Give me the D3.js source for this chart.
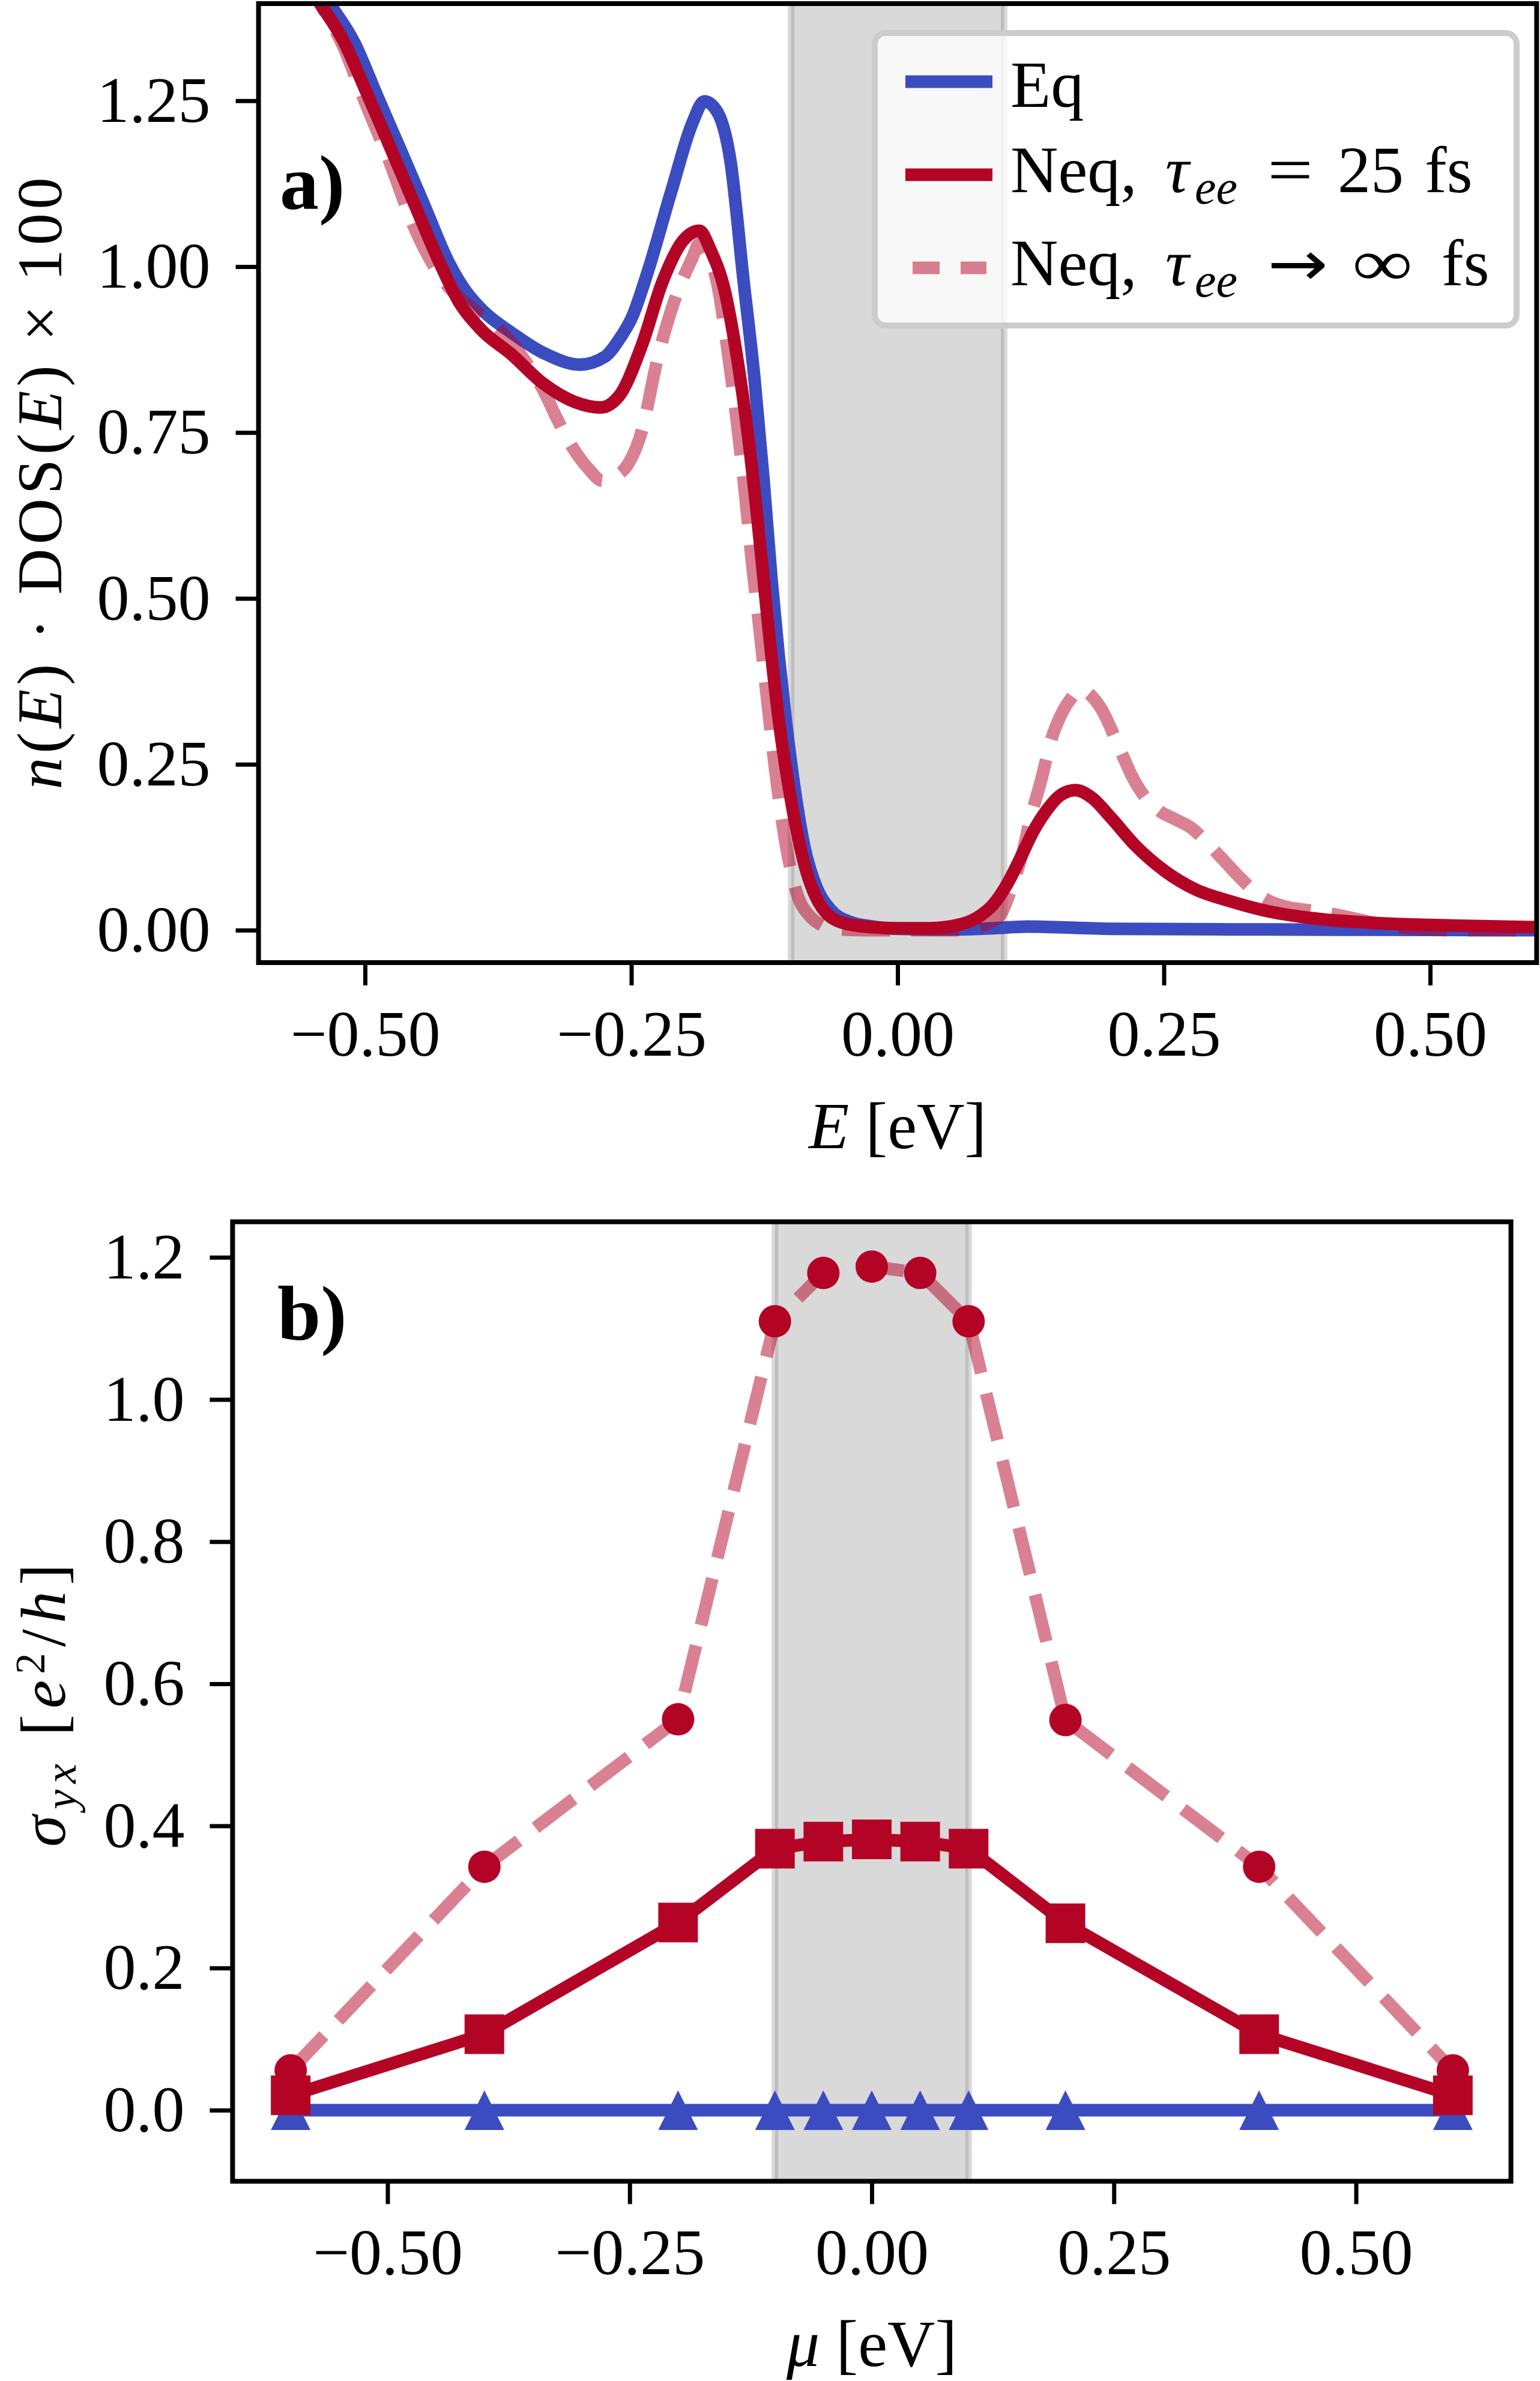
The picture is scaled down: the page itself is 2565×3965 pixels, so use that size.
<!DOCTYPE html>
<html>
<head>
<meta charset="utf-8">
<script src="https://cdn.jsdelivr.net/npm/d3@7"></script>
<style>
  body { margin: 0; background: #fff; }
  text { font-family: "Liberation Serif", "Times New Roman", serif; fill: #000; }
</style>
</head>
<body>
<svg id="chart" width="2565" height="3965"></svg>
<script>
// ---------------- DATA ----------------
// Panel a: n(E)·DOS(E)×100
const energyEq = [-0.56,-0.5356,-0.5098,-0.4882,-0.4666,-0.445,-0.4213,-0.4062,-0.389,-0.363,-0.3307,-0.2983,-0.2746,-0.2621,-0.249,-0.235,-0.212,-0.193,-0.1815,-0.170,-0.157,-0.1447,-0.1343,-0.1259,-0.1184,-0.1118,-0.1052,-0.0968,-0.0874,-0.0761,-0.063,-0.0441,-0.0254,0.0,0.05,0.09,0.122,0.2,0.35,0.6];
const dosEq = [1.463,1.402,1.337,1.256,1.176,1.095,1.006,0.965,0.933,0.901,0.8685,0.8523,0.8645,0.8887,0.925,0.990,1.116,1.215,1.249,1.235,1.16,0.980,0.830,0.680,0.530,0.4175,0.320,0.2148,0.125,0.0647,0.031,0.0122,0.006,0.002,0.001,0.003,0.0055,0.002,0.001,0.0];

const energyNeq25 = [-0.56,-0.5443,-0.5205,-0.499,-0.4775,-0.4538,-0.430,-0.4126,-0.391,-0.363,-0.3329,-0.3027,-0.279,-0.262,-0.240,-0.221,-0.202,-0.186,-0.1757,-0.1625,-0.1512,-0.140,-0.1306,-0.1212,-0.1118,-0.1005,-0.0892,-0.0742,-0.0536,-0.0254,0.0,0.03,0.0592,0.0743,0.0894,0.102,0.1145,0.1271,0.1397,0.1523,0.1669,0.1825,0.2001,0.2227,0.2505,0.2807,0.3108,0.3486,0.3864,0.4538,0.52,0.6];
const dosNeq25 = [1.445,1.402,1.341,1.264,1.184,1.095,1.006,0.949,0.905,0.8685,0.824,0.7958,0.7877,0.804,0.882,0.976,1.038,1.054,1.0253,0.965,0.868,0.740,0.605,0.455,0.320,0.200,0.110,0.0423,0.0122,0.0045,0.003,0.003,0.0088,0.0185,0.038,0.067,0.106,0.148,0.180,0.2027,0.211,0.1995,0.170,0.1285,0.0896,0.0606,0.0443,0.0282,0.0185,0.0104,0.007,0.0045];

const energyNeqInf = [-0.56,-0.5443,-0.52,-0.503,-0.4775,-0.4538,-0.4279,-0.3997,-0.3737,-0.3523,-0.3307,-0.32,-0.305,-0.290,-0.277,-0.264,-0.254,-0.240,-0.226,-0.207,-0.193,-0.186,-0.180,-0.170,-0.1597,-0.1512,-0.1437,-0.1371,-0.1297,-0.1221,-0.1146,-0.1061,-0.0949,-0.0817,-0.0723,-0.06,-0.03,0.0,0.05,0.075,0.095,0.107,0.1171,0.1246,0.1347,0.1448,0.1548,0.1624,0.1712,0.190,0.2102,0.2202,0.2328,0.2454,0.2605,0.2756,0.2907,0.3058,0.3209,0.336,0.3486,0.3662,0.3864,0.4115,0.45,0.48,0.52,0.6];
const dosNeqInf = [1.445,1.402,1.33,1.26,1.160,1.059,0.982,0.9375,0.905,0.864,0.808,0.7716,0.727,0.695,0.677,0.685,0.700,0.753,0.857,0.960,1.012,1.035,1.02,0.980,0.875,0.770,0.665,0.560,0.455,0.3425,0.2374,0.140,0.0573,0.020,0.0085,0.002,0.0,0.0,0.0,0.005,0.02,0.0637,0.1155,0.1674,0.2253,0.290,0.3288,0.3484,0.3629,0.3368,0.2673,0.2317,0.1995,0.180,0.1672,0.1542,0.1316,0.1059,0.080,0.0573,0.0443,0.0347,0.0299,0.0235,0.01,0.003,0.0,0.0];

// Panel b: sigma_yx vs mu
const muValues    = [-0.6,-0.4,-0.2,-0.1,-0.05,0.0,0.05,0.1,0.2,0.4,0.6];
const sigmaEq     = [0,0,0,0,0,0,0,0,0,0,0];
const sigmaNeq25  = [0.021,0.107,0.264,0.368,0.378,0.381,0.378,0.368,0.263,0.107,0.021];
const sigmaNeqInf = [0.056,0.3425,0.55,1.110,1.178,1.187,1.178,1.110,0.549,0.3425,0.056];

// shaded gap region
const gapRange = [-0.1, 0.1];

// ticks
const aXTicks = [-0.5,-0.25,0,0.25,0.5];
const aYTicks = [0,0.25,0.5,0.75,1.0,1.25];
const bXTicks = [-0.5,-0.25,0,0.25,0.5];
const bYTicks = [0,0.2,0.4,0.6,0.8,1.0,1.2];

// ---------------- STYLE ----------------
const BLUE = "#3b4cc0", RED = "#b40426", GRAY = "#808080";
const LW = 21, DASH = "80,35";
const TICKFS = 108, LABFS = 110;

const svg = d3.select("#chart");
const defs = svg.append("defs");

function styleAxis(g) {
  g.select(".domain").remove();
  g.selectAll(".tick line").attr("stroke", "#000").attr("stroke-width", 7);
  g.selectAll(".tick text").attr("font-size", TICKFS)
    .attr("font-family", '"Liberation Serif","Times New Roman",serif').attr("fill", "#000");
}

function drawFrame(g, x, y, clipId) {
  const [x0, x1] = x.range(), [y0, y1] = y.range(); // y0 bottom, y1 top
  defs.append("clipPath").attr("id", clipId).append("rect")
    .attr("x", x0).attr("y", y1).attr("width", x1 - x0).attr("height", y0 - y1);
  const plot = g.append("g").attr("clip-path", `url(#${clipId})`);
  plot.append("rect")
    .attr("x", x(gapRange[0])).attr("y", y1 - 40)
    .attr("width", x(gapRange[1]) - x(gapRange[0])).attr("height", y0 - y1 + 80)
    .attr("fill", GRAY).attr("fill-opacity", 0.3)
    .attr("stroke", GRAY).attr("stroke-opacity", 0.3).attr("stroke-width", 11);
  return plot;
}

function drawAxes(g, x, y, xt, yt, xf, yf) {
  const [x0, x1] = x.range(), [y0, y1] = y.range();
  g.append("rect").attr("x", x0).attr("y", y1).attr("width", x1 - x0).attr("height", y0 - y1)
    .attr("fill", "none").attr("stroke", "#000").attr("stroke-width", 8);
  g.append("g").attr("transform", `translate(0,${y0})`)
    .call(d3.axisBottom(x).tickValues(xt).tickSize(38).tickPadding(40).tickFormat(d3.format(xf)))
    .call(styleAxis);
  g.append("g").attr("transform", `translate(${x0},0)`)
    .call(d3.axisLeft(y).tickValues(yt).tickSize(38).tickPadding(42).tickFormat(d3.format(yf)))
    .call(styleAxis);
}

// ---------------- PANEL A ----------------
const xA = d3.scaleLinear().domain([-0.6, 0.6]).range([430.6, 2559.4]);
const yA = d3.scaleLinear().domain([-0.0489, 1.3964]).range([1603, 6]);
const gA = svg.append("g");
const plotA = drawFrame(gA, xA, yA, "clipA");
const lineA = d3.line().x(d => xA(d[0])).y(d => yA(d[1])).curve(d3.curveMonotoneX);

plotA.append("path").datum(d3.zip(energyEq, dosEq)).attr("d", lineA)
  .attr("fill", "none").attr("stroke", BLUE).attr("stroke-width", LW).attr("stroke-linejoin", "round");
plotA.append("path").datum(d3.zip(energyNeq25, dosNeq25)).attr("d", lineA)
  .attr("fill", "none").attr("stroke", RED).attr("stroke-width", LW).attr("stroke-linejoin", "round");
plotA.append("path").datum(d3.zip(energyNeqInf, dosNeqInf)).attr("d", lineA)
  .attr("fill", "none").attr("stroke", RED).attr("stroke-opacity", 0.5).attr("stroke-width", LW)
  .attr("stroke-dasharray", DASH);

drawAxes(gA, xA, yA, aXTicks, aYTicks, ".2f", ".2f");

// legend
const leg = gA.append("g");
leg.append("rect").attr("x", 1457).attr("y", 55).attr("width", 1069).attr("height", 487).attr("rx", 18)
  .attr("fill", "#fff").attr("fill-opacity", 0.8).attr("stroke", "#cccccc").attr("stroke-width", 10);
leg.append("line").attr("x1", 1508).attr("x2", 1653).attr("y1", 136).attr("y2", 136)
  .attr("stroke", BLUE).attr("stroke-width", LW);
leg.append("line").attr("x1", 1508).attr("x2", 1653).attr("y1", 291).attr("y2", 291)
  .attr("stroke", RED).attr("stroke-width", LW);
leg.append("line").attr("x1", 1520).attr("x2", 1643).attr("y1", 446).attr("y2", 446)
  .attr("stroke", RED).attr("stroke-opacity", 0.5).attr("stroke-width", LW).attr("stroke-dasharray", "45,35");

function legText(yb, pieces) {
  pieces.forEach(p => {
    const t = leg.append("text").attr("x", p.x).attr("y", yb + (p.dy || 0))
      .attr("font-size", p.size || LABFS).text(p.t);
    if (p.italic) t.attr("font-style", "italic");
    if (p.family) t.style("font-family", p.family);
    if (p.len) t.attr("textLength", p.len).attr("lengthAdjust", "spacingAndGlyphs");
  });
}
legText(178, [{t: "Eq", x: 1683}]);
legText(320, [{t: "Neq,", x: 1683}, {t: "τ", x: 1941, italic: true},
  {t: "ee", x: 1990, italic: true, size: 80, dy: 19}, {t: "=", x: 2111, len: 76},
  {t: "25", x: 2228}, {t: "fs", x: 2373}]);
legText(475, [{t: "Neq,", x: 1683}, {t: "τ", x: 1941, italic: true},
  {t: "ee", x: 1990, italic: true, size: 80, dy: 19},
  {t: "→", x: 2111, len: 101, family: '"DejaVu Sans", sans-serif', size: 104},
  {t: "∞", x: 2252, len: 101}, {t: "fs", x: 2401}]);

// panel label
gA.append("text").attr("x", 466).attr("y", 348).attr("font-size", 130).attr("font-weight", "bold").text("a)");

// axis labels
const xlA = gA.append("text").attr("x", (xA.range()[0] + xA.range()[1]) / 2).attr("y", 1912)
  .attr("text-anchor", "middle").attr("font-size", LABFS);
xlA.append("tspan").attr("font-style", "italic").text("E");
xlA.append("tspan").text(" [eV]");

const ylA = gA.append("text").attr("transform", "translate(102,805) rotate(-90)")
  .attr("text-anchor", "middle").attr("font-size", 106)
  .attr("textLength", 1019).attr("lengthAdjust", "spacing");
ylA.append("tspan").attr("font-style", "italic").text("n");
ylA.append("tspan").text("(");
ylA.append("tspan").attr("font-style", "italic").text("E");
ylA.append("tspan").text(") · DOS(");
ylA.append("tspan").attr("font-style", "italic").text("E");
ylA.append("tspan").text(") × 100");

// ---------------- PANEL B ----------------
const xB = d3.scaleLinear().domain([-0.66, 0.66]).range([387.4, 2516.6]);
const yB = d3.scaleLinear().domain([-0.1, 1.25]).range([3632.4, 2034.6]);
const gB = svg.append("g");
const plotB = drawFrame(gB, xB, yB, "clipB");
const lineB = d3.line().x(d => xB(d[0])).y(d => yB(d[1]));

// Eq: line + triangles
plotB.append("path").datum(d3.zip(muValues, sigmaEq)).attr("d", lineB)
  .attr("fill", "none").attr("stroke", BLUE).attr("stroke-width", LW);
const triPath = "M0,-33L33,33L-33,33Z";
gB.append("g").selectAll("path").data(d3.zip(muValues, sigmaEq)).join("path")
  .attr("d", triPath).attr("transform", d => `translate(${xB(d[0])},${yB(d[1])})`)
  .attr("fill", BLUE);
// Neq inf: dashed line + circles
gB.append("path").datum(d3.zip(muValues, sigmaNeqInf)).attr("d", lineB)
  .attr("fill", "none").attr("stroke", RED).attr("stroke-opacity", 0.5).attr("stroke-width", LW)
  .attr("stroke-dasharray", DASH);
gB.append("g").selectAll("circle").data(d3.zip(muValues, sigmaNeqInf)).join("circle")
  .attr("cx", d => xB(d[0])).attr("cy", d => yB(d[1])).attr("r", 27).attr("fill", RED);
// Neq 25: solid line + squares
gB.append("path").datum(d3.zip(muValues, sigmaNeq25)).attr("d", lineB)
  .attr("fill", "none").attr("stroke", RED).attr("stroke-width", LW).attr("stroke-linejoin", "round");
const sq = d3.symbol(d3.symbolSquare, 66 * 66)();
gB.append("g").selectAll("path").data(d3.zip(muValues, sigmaNeq25)).join("path")
  .attr("d", sq).attr("transform", d => `translate(${xB(d[0])},${yB(d[1])})`).attr("fill", RED);

drawAxes(gB, xB, yB, bXTicks, bYTicks, ".2f", ".1f");

gB.append("text").attr("x", 462).attr("y", 2231).attr("font-size", 130).attr("font-weight", "bold").text("b)");

const xlB = gB.append("text").attr("x", (xB.range()[0] + xB.range()[1]) / 2).attr("y", 3940)
  .attr("text-anchor", "middle").attr("font-size", LABFS);
xlB.append("tspan").attr("font-style", "italic").text("μ");
xlB.append("tspan").text(" [eV]");

const ylB = gB.append("text").attr("transform", "translate(108,2840) rotate(-90)")
  .attr("text-anchor", "middle").attr("font-size", 106)
  .attr("textLength", 471).attr("lengthAdjust", "spacing");
ylB.append("tspan").attr("font-style", "italic").text("σ");
ylB.append("tspan").attr("font-style", "italic").attr("font-size", 74).attr("dy", 18).text("yx");
ylB.append("tspan").attr("dy", -18).text(" [");
ylB.append("tspan").attr("font-style", "italic").text("e");
ylB.append("tspan").attr("font-size", 70).attr("dy", -34).text("2");
ylB.append("tspan").attr("dy", 34).text("/");
ylB.append("tspan").attr("font-style", "italic").text("h");
ylB.append("tspan").text("]");
</script>
</body>
</html>
